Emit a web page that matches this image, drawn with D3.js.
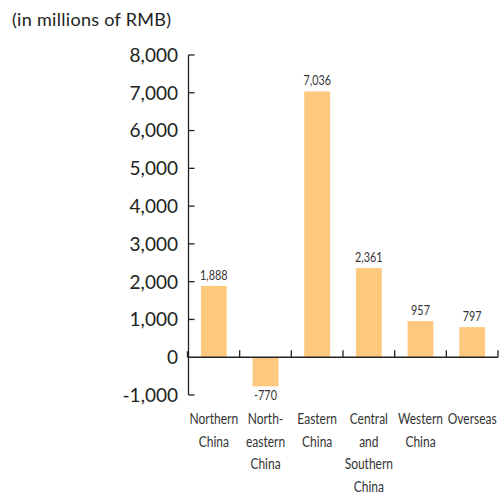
<!DOCTYPE html>
<html>
<head>
<meta charset="utf-8">
<script src="https://cdn.jsdelivr.net/npm/d3@7"></script>
<style>
  body { margin: 0; background: #fff; }
  svg { display: block; }
  .tick-label { font-family: Lato, "Open Sans", sans-serif; font-size: 19px; fill: #222; }
  .narrow { font-family: Lato, "Open Sans", sans-serif; fill: #333; }
</style>
</head>
<body>
<div id="container"></div>
<script>
"use strict";

const width = 500;
const height = 493;

// regions, values (millions of RMB)
const regions = ["Northern China", "North-eastern China", "Eastern China",
                 "Central and Southern China", "Western China", "Overseas"];
const regionLines = [
    ["Northern", "China"],
    ["North-", "eastern", "China"],
    ["Eastern", "China"],
    ["Central", "and", "Southern", "China"],
    ["Western", "China"],
    ["Overseas"]
];
const values = [1888, -770, 7036, 2361, 957, 797];
const yTicks = [-1000, 0, 1000, 2000, 3000, 4000, 5000, 6000, 7000, 8000];
const unitLabel = "(in millions of RMB)";

const barColor = "#fec97f";
const axisColor = "#222";
const squeeze = 0.8; // the original uses a condensed face

const svg = d3.select("#container").append("svg")
    .attr("width", width)
    .attr("height", height);

// scales
const y = d3.scaleLinear().domain([-1000, 8000]).range([395, 55]);
const x = d3.scaleBand().domain(regions).range([188, 498]).paddingInner(0.5).paddingOuter(0.25);

// hyphen instead of unicode minus, like the original
const fmt = v => d3.format(",")(v).replace("\u2212", "-");

// unit label
svg.append("text")
    .attr("x", 12)
    .attr("y", 26)
    .attr("class", "tick-label")
    .style("font-size", "18px")
    .style("letter-spacing", "0.3px")
    .text(unitLabel);

// y axis line
const x0 = 188.5;
svg.append("line")
    .attr("x1", x0).attr("x2", x0)
    .attr("y1", y(8000)).attr("y2", y(-1000))
    .attr("stroke", axisColor).attr("stroke-width", 1.3);

// y ticks (pointing right) and labels
yTicks.forEach(t => {
    if (t !== 0) {
        svg.append("line")
            .attr("x1", x0).attr("x2", x0 + 6)
            .attr("y1", y(t)).attr("y2", y(t))
            .attr("stroke", axisColor).attr("stroke-width", 1.3);
    }
    svg.append("text")
        .attr("class", "tick-label")
        .attr("x", 178)
        .attr("y", y(t))
        .attr("dy", "0.36em")
        .attr("text-anchor", "end")
        .text(fmt(t));
});

// bars
svg.selectAll("rect.bar")
    .data(values)
    .enter()
    .append("rect")
    .attr("class", "bar")
    .attr("x", (d, i) => x(regions[i]))
    .attr("width", x.bandwidth())
    .attr("y", d => y(Math.max(0, d)))
    .attr("height", d => Math.abs(y(d) - y(0)))
    .attr("fill", barColor);

// zero line with ticks pointing up at band boundaries
svg.append("line")
    .attr("x1", x0 - 1).attr("x2", 498)
    .attr("y1", y(0)).attr("y2", y(0))
    .attr("stroke", axisColor).attr("stroke-width", 1.5);

const step = x.step();
regions.forEach((r, i) => {
    const bx = x(r) - x.bandwidth() * 0.5 + step;
    svg.append("line")
        .attr("x1", bx).attr("x2", bx)
        .attr("y1", y(0)).attr("y2", y(0) - 7)
        .attr("stroke", axisColor).attr("stroke-width", 1.3);
});
svg.append("line")
    .attr("x1", x0 - 1).attr("x2", x0 - 1)
    .attr("y1", y(0)).attr("y2", y(0) - 6)
    .attr("stroke", axisColor).attr("stroke-width", 1.3);

// value labels
svg.selectAll("text.value")
    .data(values)
    .enter()
    .append("text")
    .attr("class", "value narrow")
    .attr("transform", (d, i) => {
        const cx = x(regions[i]) + x.bandwidth() / 2;
        const ty = d >= 0 ? y(d) - 6 : y(d) + 14;
        return `translate(${cx},${ty}) scale(${squeeze},1)`;
    })
    .attr("text-anchor", "middle")
    .style("font-size", "13.5px")
    .text(d => fmt(d));

// category labels
regionLines.forEach((lines, i) => {
    const cx = x(regions[i]) + x.bandwidth() / 2;
    lines.forEach((ln, j) => {
        svg.append("text")
            .attr("class", "narrow")
            .attr("transform", `translate(${cx},${424 + j * 22.5}) scale(${squeeze},1)`)
            .attr("text-anchor", "middle")
            .style("font-size", "15px")
            .text(ln);
    });
});
</script>
</body>
</html>
